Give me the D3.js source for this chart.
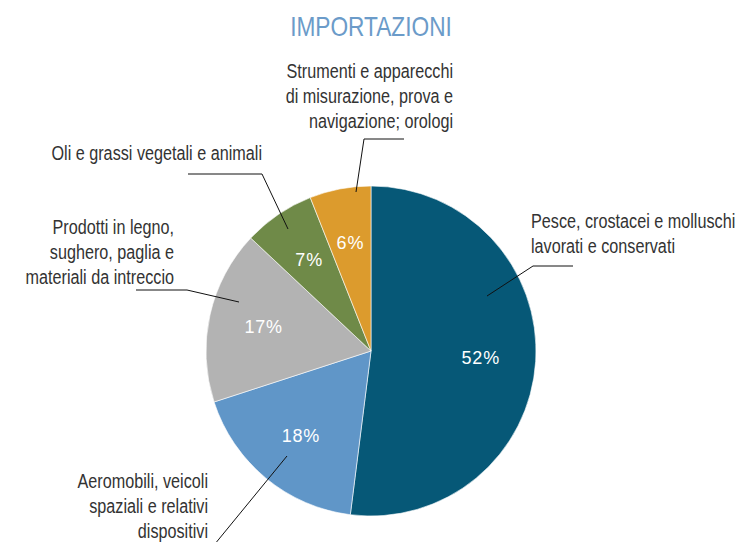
<!DOCTYPE html>
<html>
<head>
<meta charset="utf-8">
<script src="https://cdn.jsdelivr.net/npm/d3@7"></script>
<style>
  html, body { margin: 0; padding: 0; background: #fff; }
  svg { display: block; }
</style>
</head>
<body>
<div id="chart"></div>
<script>
// ── Data ──────────────────────────────────────────────────────────────────────
const title = "IMPORTAZIONI";
const categories = [
  "Pesce, crostacei e molluschi lavorati e conservati",
  "Aeromobili, veicoli spaziali e relativi dispositivi",
  "Prodotti in legno, sughero, paglia e materiali da intreccio",
  "Oli e grassi vegetali e animali",
  "Strumenti e apparecchi di misurazione, prova e navigazione; orologi",
];
const values = [52, 18, 17, 7, 6];
const colors = ["#065877", "#6096c8", "#b3b3b3", "#6f8a48", "#dc9b2d"];
// label text broken into lines as in the original
const labelLines = [
  ["Pesce, crostacei e molluschi", "lavorati e conservati"],
  ["Aeromobili, veicoli", "spaziali e relativi", "dispositivi"],
  ["Prodotti in legno,", "sughero, paglia e", "materiali da intreccio"],
  ["Oli e grassi vegetali e animali"],
  ["Strumenti e apparecchi", "di misurazione, prova e", "navigazione; orologi"],
];

// ── Layout ────────────────────────────────────────────────────────────────────
const W = 737, H = 542;
const cx = 371, cy = 351, R = 165;
const lineGap = 24.8;
// no condensed face is installed, so a regular sans is squeezed horizontally
const narrowFont = "'Liberation Sans', Arial, sans-serif";
const squeeze = 0.81;

// callouts: text anchor + first baseline, leader polyline (pie-relative first point)
const callouts = [
  { x: 531, y: 228, anchor: "start", leader: [[116, -55], [533, 266], [573, 266]] },
  { x: 208, y: 488, anchor: "end",   leader: [[-84, 105], [210, 550], [150, 550]] },
  { x: 174, y: 234, anchor: "end",   leader: [[-132, -49], [187, 290], [136, 290]] },
  { x: 262, y: 160, anchor: "end",   leader: [[-83, -122], [262, 174], [188, 174]] },
  { x: 453, y: 78,  anchor: "end",   leader: [[-15, -159], [364, 139], [404, 139]] },
];

const svg = d3.select("#chart").append("svg")
  .attr("width", W).attr("height", H);

// ── Title
svg.append("g")
  .attr("transform", `translate(${cx},36) scale(${squeeze},1)`)
  .append("text")
  .attr("text-anchor", "middle")
  .attr("font-family", narrowFont)
  .attr("font-size", 28)
  .attr("fill", "#6b9bc9")
  .text(title);

// ── Pie
const pie = d3.pie().sort(null).value((d) => d);
const arcs = pie(values);
const arc = d3.arc().innerRadius(0).outerRadius(R);
const labelArc = d3.arc().innerRadius(110).outerRadius(110);

const g = svg.append("g").attr("transform", `translate(${cx},${cy})`);

g.selectAll("path")
  .data(arcs)
  .join("path")
  .attr("d", arc)
  .attr("fill", (d, i) => colors[i])
  .attr("stroke", "#fff")
  .attr("stroke-width", 0.6);

g.selectAll("text.pct")
  .data(arcs)
  .join("text")
  .attr("class", "pct")
  .attr("transform", (d) => `translate(${labelArc.centroid(d)})`)
  .attr("text-anchor", "middle")
  .attr("dy", "0.35em")
  .attr("font-family", "'Liberation Sans', Arial, sans-serif")
  .attr("font-size", 18)
  .attr("letter-spacing", 0.8)
  .attr("fill", "#fff")
  .text((d) => `${d.data}%`);

// ── Leader lines
const line = d3.line();
svg.append("g")
  .selectAll("path")
  .data(callouts)
  .join("path")
  .attr("d", (c) => {
    const [p0, ...rest] = c.leader;
    return line([[cx + p0[0], cy + p0[1]], ...rest]);
  })
  .attr("fill", "none")
  .attr("stroke", "#111")
  .attr("stroke-width", 1);

// ── Category labels
svg.append("g")
  .selectAll("g")
  .data(callouts)
  .join("g")
  .attr("transform", (c) => `translate(${c.x},${c.y}) scale(${squeeze},1)`)
  .append("text")
  .attr("text-anchor", (c) => c.anchor)
  .attr("font-family", narrowFont)
  .attr("font-size", 20)
  .attr("fill", "#333")
  .each(function (c, i) {
    d3.select(this).selectAll("tspan")
      .data(labelLines[i])
      .join("tspan")
      .attr("x", 0)
      .attr("dy", (d, j) => (j === 0 ? 0 : lineGap))
      .text((d) => d);
  });
</script>
</body>
</html>
